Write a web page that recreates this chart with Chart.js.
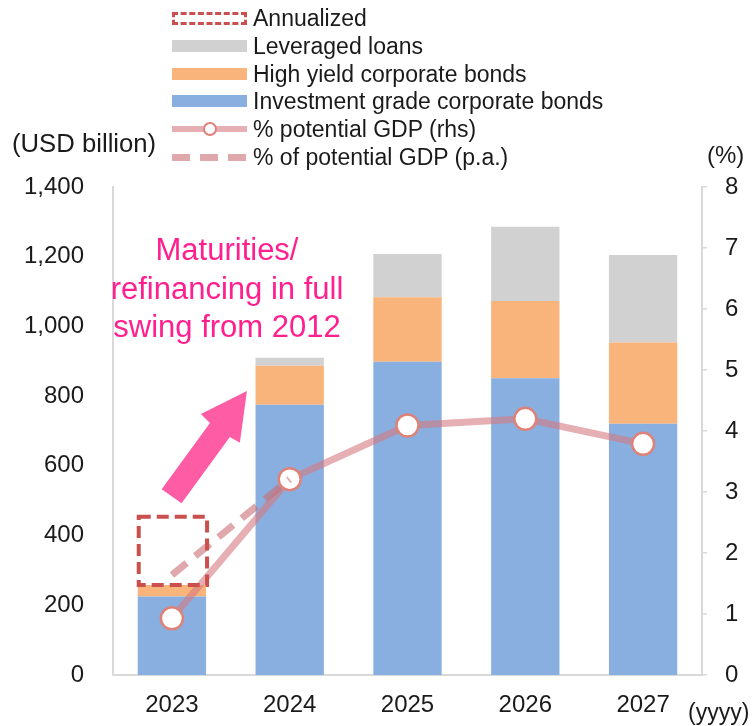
<!DOCTYPE html>
<html><head><meta charset="utf-8">
<script src="https://cdn.jsdelivr.net/npm/chart.js@4/dist/chart.umd.min.js"></script>
<style>
html,body{margin:0;padding:0;background:#fff;}
#wrap{position:relative;width:753px;height:726px;font-family:"Liberation Sans",Arial,sans-serif;color:#1a1a1a;overflow:hidden;}
#c{position:absolute;left:0;top:0;}
.lg{position:absolute;left:172px;height:28px;display:flex;align-items:center;font-size:23px;white-space:nowrap;}
.sw{width:75px;height:12px;margin-right:6px;position:relative;box-sizing:border-box;}
.unit{position:absolute;white-space:nowrap;line-height:28px;}
#note{position:absolute;left:112px;top:220px;width:320px;height:140px;overflow:hidden;}
#note div{position:absolute;left:-12px;top:11px;width:254px;text-align:center;font-size:31px;line-height:38.5px;color:#FF1F8F;white-space:nowrap;}
</style></head>
<body>
<div id="wrap">
<canvas id="c" width="753" height="726"></canvas>
<div id="legend"></div>
<div class="unit" style="left:12px;top:129px;font-size:25.7px;">(USD billion)</div>
<div class="unit" style="left:707px;top:141px;font-size:24px;">(%)</div>
<div class="unit" style="left:688px;top:698px;font-size:23px;">(yyyy)</div>
<div id="note"><div>Maturities/<br>refinancing in full<br>swing from 2012</div></div>
</div>
<script>
const categories = ['2023', '2024', '2025', '2026', '2027'];
const investmentGrade = [225, 775, 899, 851, 721];
const highYield = [33, 112, 185, 222, 233];
const leveragedLoans = [0, 23, 124, 213, 251];
const annualized = [196, null, null, null, null];
const potentialGdp = [0.93, 3.21, 4.09, 4.20, 3.79];
const potentialGdpPa = [1.64, 3.21, null, null, null];
const leftTicks = [0, 200, 400, 600, 800, 1000, 1200, 1400];
const rightTicks = [0, 1, 2, 3, 4, 5, 6, 7, 8];
// arrow outline in data space: [category offset, USD billion]
const arrowShape = [[0.637, 815], [0.577, 666], [0.492, 683], [0.082, 493], [-0.087, 533], [0.323, 723], [0.246, 749]];

const C = {
  blue: '#89AFE0', orange: '#F9B47B', gray: '#D1D1D1',
  line: 'rgba(212,122,128,0.6)', dash: 'rgba(200,110,116,0.6)',
  marker: '#DE8279', box: '#C9504D', arrow: '#FF5CA6', axis: '#d9d9d9'
};

Chart.defaults.font.family = '"Liberation Sans", Arial, sans-serif';
Chart.defaults.color = '#1a1a1a';

const extras = {
  id: 'extras',
  afterDatasetsDraw(chart) {
    const ctx = chart.ctx;
    const meta = chart.getDatasetMeta(3);
    meta.data.forEach((el, i) => {
      if (annualized[i] == null) return;
      const p = el.getProps(['x', 'y', 'base', 'width'], true);
      ctx.save();
      ctx.strokeStyle = C.box;
      ctx.lineWidth = 4;
      ctx.setLineDash([12, 6]);
      ctx.strokeRect(p.x - p.width / 2 + 1, p.y, p.width, p.base - p.y);
      ctx.restore();
    });
  },
  afterDraw(chart) {
    const ctx = chart.ctx, xs = chart.scales.x, ys = chart.scales.y;
    ctx.save();
    ctx.fillStyle = C.arrow;
    ctx.beginPath();
    arrowShape.forEach(([dx, v], k) => {
      const px = xs.getPixelForValue(0) + dx * (xs.getPixelForValue(1) - xs.getPixelForValue(0));
      const py = ys.getPixelForValue(v);
      k ? ctx.lineTo(px, py) : ctx.moveTo(px, py);
    });
    ctx.closePath();
    ctx.fill();
    ctx.restore();
  }
};

const chart = new Chart(document.getElementById('c'), {
  type: 'bar',
  data: {
    labels: categories,
    datasets: [
      { label: 'Investment grade corporate bonds', data: investmentGrade, backgroundColor: C.blue, stack: 's', order: 2 },
      { label: 'High yield corporate bonds', data: highYield, backgroundColor: C.orange, stack: 's', order: 2 },
      { label: 'Leveraged loans', data: leveragedLoans, backgroundColor: C.gray, stack: 's', order: 2 },
      { label: 'Annualized', data: annualized, backgroundColor: 'rgba(0,0,0,0)', stack: 's', order: 2 },
      { type: 'line', label: '% potential GDP (rhs)', data: potentialGdp, yAxisID: 'y1', order: 1,
        borderColor: C.line, borderWidth: 7, pointRadius: 11, pointBorderWidth: 2.5,
        pointBackgroundColor: '#ffffff', pointBorderColor: C.marker, tension: 0 },
      { type: 'line', label: '% of potential GDP (p.a.)', data: potentialGdpPa, yAxisID: 'y1', order: 0,
        borderColor: C.dash, borderWidth: 7, borderDash: [19, 11], pointRadius: 0, tension: 0 }
    ]
  },
  options: {
    responsive: false, animation: false,
    layout: { padding: { top: 187, left: 0, right: 0, bottom: 0 } },
    datasets: { bar: { categoryPercentage: 1, barPercentage: 0.58 } },
    plugins: { legend: { display: false }, tooltip: { enabled: false } },
    scales: {
      x: {
        grid: { display: false, drawTicks: false },
        border: { display: true, color: C.axis, width: 2 },
        ticks: { font: { size: 24 }, padding: 16, color: '#1a1a1a' },
        afterFit: s => { s.height = 51; }
      },
      y: {
        stacked: true, min: 0, max: 1400,
        grid: { display: false, drawTicks: false },
        border: { display: true, color: C.axis, width: 2 },
        afterBuildTicks: s => { s.ticks = leftTicks.map(v => ({ value: v })); },
        ticks: { font: { size: 24 }, padding: 29, color: '#1a1a1a', callback: v => v.toLocaleString('en-US') },
        afterFit: s => { s.width = 113; }
      },
      y1: {
        position: 'right', min: 0, max: 8,
        grid: { drawOnChartArea: false, drawTicks: true, tickLength: 5, color: C.axis, lineWidth: 1.5 },
        border: { display: true, color: C.axis, width: 2 },
        afterBuildTicks: s => { s.ticks = rightTicks.map(v => ({ value: v })); },
        ticks: { font: { size: 24 }, padding: 18, color: '#1a1a1a' },
        afterFit: s => { s.width = 51; }
      }
    }
  },
  plugins: [extras]
});

const legendOrder = [3, 2, 1, 0, 4, 5];
const rowY = [18, 46, 74, 101, 129, 157];
const lg = document.getElementById('legend');
legendOrder.forEach((di, k) => {
  const ds = chart.data.datasets[di];
  const row = document.createElement('div');
  row.className = 'lg';
  row.style.top = (rowY[k] - 14) + 'px';
  const sw = document.createElement('div');
  sw.className = 'sw';
  if (di === 3) {
    sw.style.border = '3px dashed ' + C.box;
    sw.style.height = '13px';
  } else if (di <= 2) {
    sw.style.background = ds.backgroundColor;
  } else if (di === 4) {
    sw.style.height = '14px';
    sw.innerHTML = '<div style="position:absolute;left:0;right:0;top:4px;height:6px;background:' + C.line + '"></div>' +
      '<div style="position:absolute;left:31px;top:0;width:10px;height:10px;border-radius:50%;background:#fff;border:2px solid ' + C.marker + '"></div>';
  } else {
    sw.style.height = '7px';
    sw.style.background = 'repeating-linear-gradient(90deg,' + C.dash + ' 0 18px, transparent 18px 28px)';
  }
  row.appendChild(sw);
  const t = document.createElement('span');
  t.textContent = ds.label;
  row.appendChild(t);
  lg.appendChild(row);
});
</script>
</body></html>
